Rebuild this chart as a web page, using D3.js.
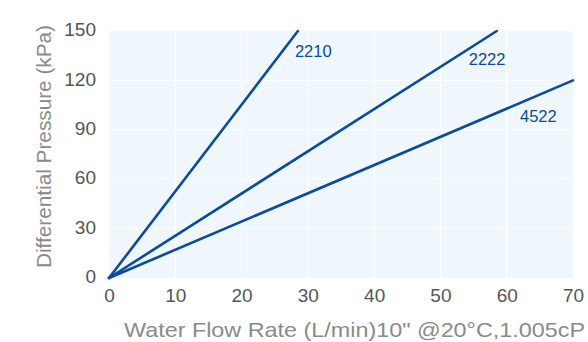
<!DOCTYPE html>
<html>
<head>
<meta charset="utf-8">
<script src="https://cdn.jsdelivr.net/npm/d3@7"></script>
<style>
  html, body { margin: 0; padding: 0; background: #fff; }
  svg { display: block; }
  text { font-family: "Liberation Sans", Arial, sans-serif; }
</style>
</head>
<body>
<svg id="chart" width="588" height="342"></svg>
<script>
// Flow rate (L/min) vs differential pressure (kPa) per filter model
const models = ["2210", "2222", "4522"];
const flowPoints = [[0, 28.5], [0, 58.5], [0, 70]];
const pressurePoints = [[0, 150], [0, 150], [0, 120]];
const xTicks = [0, 10, 20, 30, 40, 50, 60, 70];
const yTicks = [0, 30, 60, 90, 120, 150];
const xTitle = "Water Flow Rate (L/min)10\" @20°C,1.005cP";
const yTitle = "Differential Pressure (kPa)";

const svg = d3.select("#chart");
const plot = { left: 109, right: 573, top: 31, bottom: 278 };

const x = d3.scaleLinear().domain([0, 70]).range([plot.left, plot.right]);
const y = d3.scaleLinear().domain([0, 150]).range([plot.bottom, plot.top]);

// plot background
svg.append("rect")
  .attr("x", plot.left).attr("y", plot.top)
  .attr("width", plot.right - plot.left).attr("height", plot.bottom - plot.top)
  .attr("fill", "#eff7fc");

// grid
const grid = svg.append("g").attr("stroke", "#ffffff").attr("stroke-width", 1);
grid.selectAll("line.v").data(xTicks.slice(1, -1)).join("line")
  .attr("x1", d => x(d)).attr("x2", d => x(d))
  .attr("y1", plot.top).attr("y2", plot.bottom);
grid.selectAll("line.h").data(yTicks.slice(1, -1)).join("line")
  .attr("x1", plot.left).attr("x2", plot.right)
  .attr("y1", d => y(d)).attr("y2", d => y(d));

// axes (labels only)
const xAxis = svg.append("g")
  .attr("transform", `translate(0,${plot.bottom})`)
  .call(d3.axisBottom(x).tickValues(xTicks).tickSize(0).tickPadding(10));
const yAxis = svg.append("g")
  .attr("transform", `translate(${plot.left},0)`)
  .call(d3.axisLeft(y).tickValues(yTicks).tickSize(0).tickPadding(13));
[xAxis, yAxis].forEach(g => {
  g.select(".domain").remove();
  g.selectAll("text")
    .attr("font-family", "Liberation Sans, Arial, sans-serif")
    .attr("font-size", 19)
    .attr("fill", "#555555");
});
yAxis.selectAll("text").attr("dy", "0.25em");
xAxis.selectAll("text").attr("dy", "0.76em");

// series lines
const line = d3.line().x(d => x(d[0])).y(d => y(d[1]));
const series = models.map((m, i) => ({
  name: m,
  pts: flowPoints[i].map((f, j) => [f, pressurePoints[i][j]])
}));
svg.append("g").selectAll("path").data(series).join("path")
  .attr("d", d => line(d.pts))
  .attr("fill", "none")
  .attr("stroke", "#0b4a9c")
  .attr("stroke-width", 2.6)
  .attr("stroke-linecap", "round");

// series labels placed near line ends
const labelOffsets = [[-3, 26], [-28, 34], [-53, 42]];
svg.append("g").selectAll("text").data(series).join("text")
  .attr("x", (d, i) => x(d.pts[1][0]) + labelOffsets[i][0])
  .attr("y", (d, i) => y(d.pts[1][1]) + labelOffsets[i][1])
  .attr("font-size", 16.5)
  .attr("fill", "#0b4a9c")
  .text(d => d.name);

// axis titles
svg.append("text")
  .attr("x", 124).attr("y", 337)
  .attr("font-size", 21)
  .attr("textLength", 461)
  .attr("lengthAdjust", "spacingAndGlyphs")
  .attr("fill", "#8a8a8a")
  .text(xTitle);
svg.append("text")
  .attr("transform", `translate(51,268) rotate(-90)`)
  .attr("font-size", 20)
  .attr("textLength", 243)
  .attr("lengthAdjust", "spacingAndGlyphs")
  .attr("fill", "#8a8a8a")
  .text(yTitle);
</script>
</body>
</html>
